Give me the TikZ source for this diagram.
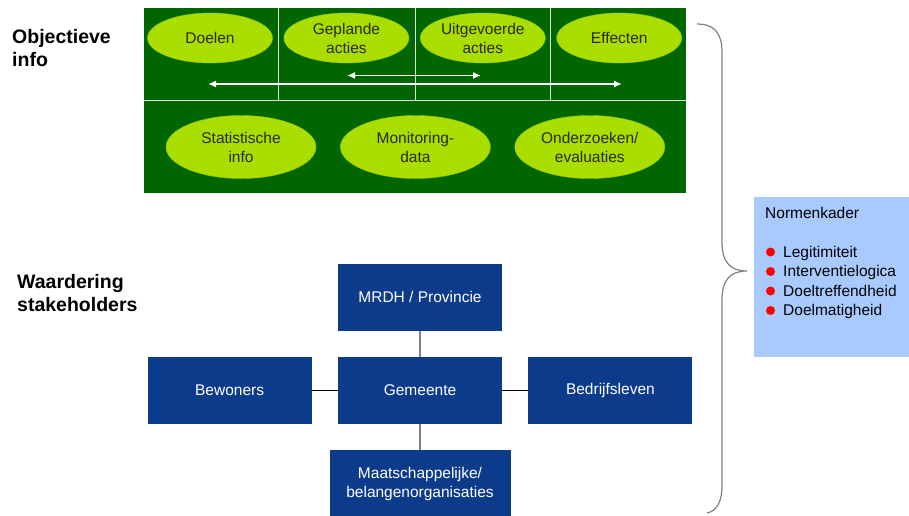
\documentclass[tikz,border=0pt]{standalone}
\usepackage{fontspec}
\setmainfont{Liberation Sans}
\usetikzlibrary{shapes.geometric, arrows, arrows.meta, calc, positioning}
\definecolor{Gras}{HTML}{006600}
\definecolor{Lime}{HTML}{AADD00}
\definecolor{LimeEdge}{HTML}{9CCB00}
\definecolor{OvalText}{HTML}{2A2A00}
\definecolor{Navy}{HTML}{0D3B8B}
\definecolor{Sky}{HTML}{A9CAFF}
\definecolor{Bullet}{HTML}{FF0000}
\definecolor{Divider}{HTML}{E0E0E0}
\tikzstyle{oval} = [ellipse, fill=Lime, draw=LimeEdge, inner sep=0pt, minimum width=125pt, minimum height=50pt, align=center, text=OvalText, font=\fontsize{15.5}{19}\selectfont]
\tikzstyle{bigoval} = [oval, minimum width=150pt, minimum height=63pt]
\tikzstyle{party} = [rectangle, fill=Navy, text=white, minimum width=164pt, minimum height=67pt, align=center, font=\fontsize{15.5}{19.5}\selectfont]
\tikzstyle{heading} = [align=left, inner sep=0pt, font=\fontsize{19.5}{23}\selectfont\bfseries]
\tikzstyle{normbox} = [rectangle, fill=Sky, inner sep=0pt, minimum width=160pt, minimum height=160pt]
\tikzstyle{normtext} = [align=left, inner sep=0pt, font=\fontsize{15.5}{19.5}\selectfont]
\tikzstyle{arrow} = [line width=1.5pt, white, {Latex[length=8pt,width=7pt]}-{Latex[length=8pt,width=7pt]}]
\tikzstyle{link} = [line width=1pt, black]
\tikzstyle{graylink} = [line width=1.5pt, gray]
\tikzstyle{divider} = [line width=0.8pt, draw=Divider]

\begin{document}
\begin{tikzpicture}[x=1pt, y=-1pt, node distance=26pt]
	\useasboundingbox (0,0) rectangle (909,515);
	% objective information
	\fill[Gras] (144,8) rectangle (686,193);
	\draw[divider] (144,100) -- (686,100);
	\foreach \xx in {278.5, 415, 550}
		\draw[divider] (\xx,8) -- (\xx,100);
	\node (Doelen) [oval] at (210,38) {Doelen};
	\node (Geplande) [oval, right = 11pt of Doelen] {Geplande\\acties};
	\node (Uitgevoerde) [oval, right = 11pt of Geplande] {Uitgevoerde\\acties};
	\node (Effecten) [oval, right = 11pt of Uitgevoerde] {Effecten};
	\node (Statistisch) [bigoval] at (241,147) {Statistische\\info};
	\node (Monitoring) [bigoval, right = 24pt of Statistisch] {Monitoring-\\data};
	\node (Onderzoek) [bigoval, right = 24pt of Monitoring] {Onderzoeken/\\evaluaties};
	\coordinate (LongL) at (208,84);
	\coordinate (LongR) at (622,84);
	\coordinate (ShortL) at (347,75.5);
	\coordinate (ShortR) at (481,75.5);
	\draw [arrow] (LongL) -- (LongR);
	\draw [arrow] (ShortL) -- (ShortR);
	\node (ObjInfo) [heading, anchor=west] at (12,48.5) {Objectieve\\info};
	% stakeholders
	\node (Waardering) [heading, anchor=west] at (17,293) {Waardering\\stakeholders};
	\node (Gemeente) [party] at (420,390.5) {Gemeente};
	\node (MRDH) [party, above = of Gemeente] {MRDH / Provincie};
	\node (Bewoners) [party, left = of Gemeente] {Bewoners};
	\node (Bedrijven) [party, right = of Gemeente] {Bedrijfsleven};
	\node (Maatschappij) [party, minimum width=181pt, below = of Gemeente] {Maatschappelijke/\\belangenorganisaties};
	\draw [graylink] (Gemeente) -- (MRDH);
	\draw [graylink] (Gemeente) -- (Maatschappij);
	\draw [link] (Gemeente) -- (Bewoners);
	\draw [link] (Gemeente) -- (Bedrijven);
	% norms
	\draw [line width=1.2pt, gray] (697,24) .. controls (715,24) and (722,34) .. (722,52) -- (722,242)
		.. controls (722,262) and (730,271) .. (747,271)
		.. controls (730,271) and (722,280) .. (722,300) -- (722,486)
		.. controls (722,503) and (716,511) .. (707,513);
	\node (Normen) [normbox, anchor=north west] at (754,197) {};
	\node (NormenList) [normtext, anchor=north west] at ($(Normen.north west)+(11,10)$)
		{Normenkader\\[19.5pt]
		\hspace*{18pt}Legitimiteit\\
		\hspace*{18pt}Interventielogica\\
		\hspace*{18pt}Doeltreffendheid\\
		\hspace*{18pt}Doelmatigheid};
	\foreach \ii in {0,...,3}
		\fill [Bullet] (770.5,252+19.5*\ii) circle (4.5);
\end{tikzpicture}
\end{document}
